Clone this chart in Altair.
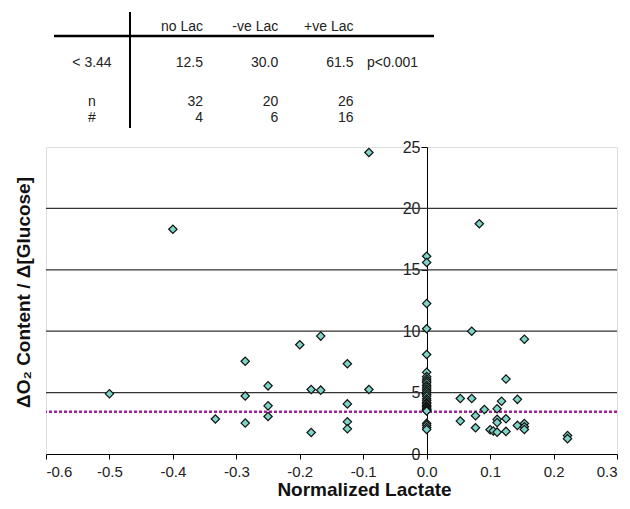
import altair as alt
import pandas as pd

# ---- scatter data ----
no_lac_y = [16.1, 15.6, 12.25, 10.2, 8.1, 6.65, 6.3, 6.1, 5.95, 5.8, 5.6, 5.45, 5.3, 5.15,
            5.0, 4.85, 4.7, 4.5, 4.35, 4.2, 4.1, 3.95, 3.85, 3.75, 3.65, 3.6, 3.55, 3.5,
            2.5, 2.35, 2.15, 2.0]
neg_x = [-0.5, -0.4, -0.333, -0.286, -0.286, -0.286, -0.25, -0.25, -0.25, -0.2,
         -0.182, -0.182, -0.167, -0.167, -0.125, -0.125, -0.125, -0.125, -0.091, -0.091]
neg_y = [4.9, 18.3, 2.85, 7.55, 4.72, 2.52, 5.55, 3.92, 3.05, 8.9,
         5.25, 1.75, 9.6, 5.2, 7.35, 4.08, 2.62, 2.05, 5.25, 24.55]
pos_x = [0.083, 0.071, 0.154, 0.125, 0.053, 0.071, 0.143, 0.118, 0.091, 0.111,
         0.077, 0.053, 0.111, 0.125, 0.111, 0.143, 0.154, 0.154, 0.154, 0.077,
         0.1, 0.105, 0.111, 0.125, 0.222, 0.222]
pos_y = [18.75, 10.0, 9.35, 6.1, 4.52, 4.52, 4.45, 4.3, 3.62, 3.68,
         3.12, 2.68, 2.82, 2.87, 2.56, 2.33, 2.48, 2.22, 2.0, 2.14,
         1.98, 1.88, 1.78, 1.84, 1.5, 1.25]
threshold = [3.44]
grid_values = [5, 10, 15, 20]
x_ticks = [-0.6, -0.5, -0.4, -0.3, -0.2, -0.1, 0.0, 0.1, 0.2, 0.3]
y_ticks = [0, 5, 10, 15, 20, 25]

# ---- table data ----
table_cols = ["no Lac", "-ve Lac", "+ve Lac"]
pct_below = ["12.5", "30.0", "61.5"]
n_vals = ["32", "20", "26"]
count_vals = ["4", "6", "16"]
row_labels = ["< 3.44", "n", "#"]
p_text = ["p<0.001"]

FONT = "Liberation Sans"

pts = pd.DataFrame({
    "x": [0.0] * len(no_lac_y) + neg_x + pos_x,
    "y": no_lac_y + neg_y + pos_y,
})

xscale = alt.Scale(domain=[-0.6, 0.3], nice=False, zero=False)
yscale = alt.Scale(domain=[0, 25], nice=False)

xaxis = alt.Axis(
    values=x_ticks, grid=False,
    labelExpr="datum.value < 0 ? '-' + format(-datum.value, '.1f') : format(datum.value, '.1f')",
    labelFont=FONT, labelFontSize=15, labelColor="#222222", labelPadding=5,
    tickColor="black", tickSize=5, domainColor="black", domainWidth=1,
    title="Normalized Lactate", titleFont=FONT, titleFontSize=19,
    titleFontWeight="bold", titleColor="#111111",
    titleX=318, titleY=41, titleBaseline="alphabetic")
yaxis = alt.Axis(
    values=y_ticks, grid=False, offset=-381,
    labelFont=FONT, labelFontSize=16, labelColor="#222222", labelPadding=1,
    tickColor="black", tickSize=6, domainColor="black", domainWidth=1,
    title="ΔO₂ Content / Δ[Glucose]", titleFont=FONT, titleFontSize=19,
    titleFontWeight="bold", titleColor="#111111",
    titleX=-404, titleY=145, titleBaseline="middle", titleAngle=-90)

grid = alt.Chart(pd.DataFrame({"y": grid_values})).mark_rule(
    color="#333333", strokeWidth=1.2
).encode(y=alt.Y("y:Q", scale=yscale, axis=yaxis))

thr = alt.Chart(pd.DataFrame({"y": threshold})).mark_rule(
    color="#a0209c", strokeWidth=2.5, strokeDash=[3, 2]
).encode(y=alt.Y("y:Q", scale=yscale, axis=yaxis))

points = alt.Chart(pts).mark_point(
    shape="diamond", filled=True, fill="#7fd4c9", stroke="#111111",
    strokeWidth=1.2, size=70, opacity=1
).encode(
    x=alt.X("x:Q", scale=xscale, axis=xaxis),
    y=alt.Y("y:Q", scale=yscale, axis=yaxis),
)

scatter = alt.layer(grid, thr, points)

# ---- table ----
col_domain = ["label"] + table_cols
col_scale = alt.Scale(type="point", domain=col_domain, range=[81.75, 307.5], padding=0)

def row_layer(cols, texts, ypix, align="right", dx=0):
    df = pd.DataFrame({"col": cols, "txt": texts})
    return alt.Chart(df).mark_text(
        font=FONT, fontSize=14, color="#222222", align=align, baseline="middle", dx=dx
    ).encode(
        x=alt.X("col:N", scale=col_scale, axis=None),
        y=alt.value(ypix),
        text="txt:N",
    )

header = row_layer(table_cols, table_cols, -120.3)
lt_row = row_layer(table_cols, pct_below, -84.5)
n_row = row_layer(table_cols, n_vals, -45.5)
c_row = row_layer(table_cols, count_vals, -29.5)
lab_rows = alt.layer(
    row_layer(["label"], [row_labels[0]], -84.5, align="center", dx=-35.75),
    row_layer(["label"], [row_labels[1]], -45.5, align="center", dx=-35.75),
    row_layer(["label"], [row_labels[2]], -29.5, align="center", dx=-35.75),
)
p_row = row_layer(["+ve Lac"], p_text, -84.5, align="left", dx=13.5)

vline = alt.Chart(pd.DataFrame({"a": [0]})).mark_rule(color="black", strokeWidth=2).encode(
    x=alt.value(84), y=alt.value(-135), y2=alt.value(-19))
hline = alt.Chart(pd.DataFrame({"a": [0]})).mark_rule(color="black", strokeWidth=2.5).encode(
    x=alt.value(8), x2=alt.value(388), y=alt.value(-111))

table = alt.layer(vline, hline, header, lt_row, n_row, c_row, lab_rows, p_row)

chart = alt.layer(scatter, table).resolve_scale(x="independent", y="independent").properties(
    width=571, height=307,
    autosize=alt.AutoSizeParams(type="none"),
    padding={"left": 38, "top": 139, "right": 3, "bottom": 47},
).configure_view(stroke="black", strokeWidth=1.2).configure(font=FONT)

chart.save("out.html", embed_options={"renderer": "svg", "actions": False})
